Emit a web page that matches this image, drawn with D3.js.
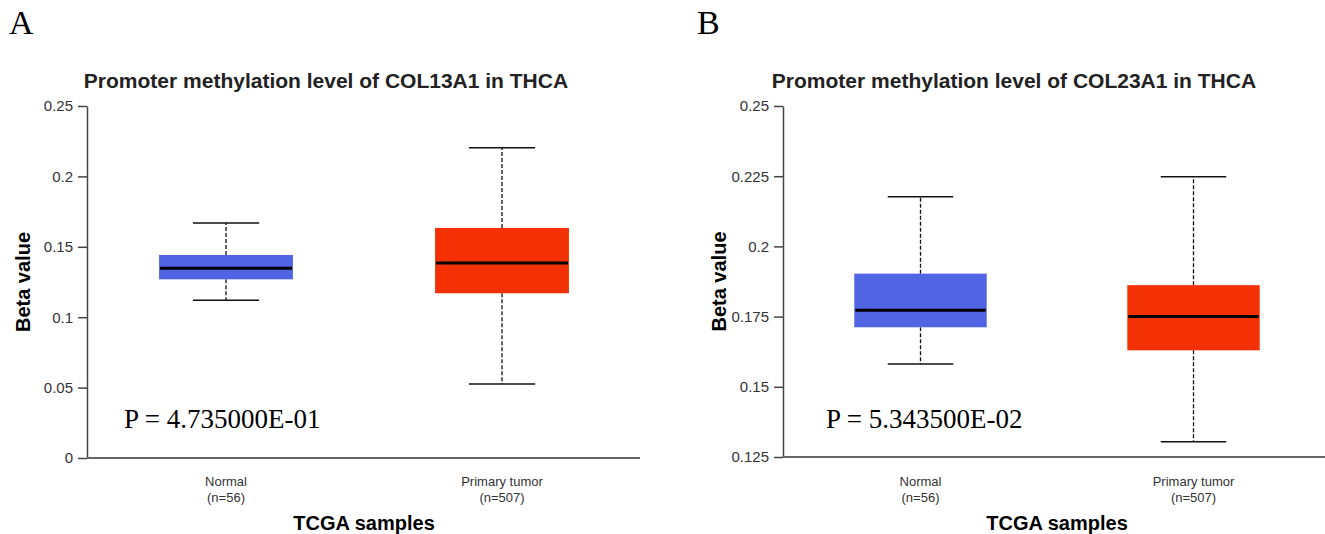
<!DOCTYPE html>
<html>
<head>
<meta charset="utf-8">
<script src="https://cdn.jsdelivr.net/npm/d3@7"></script>
<style>
body{margin:0;background:#fff;}
svg{display:block;}
</style>
</head>
<body>
<div id="chart"></div>
<script>
// data
var panelLabels=["A","B"];
var genes=["COL13A1","COL23A1"];
var groups=["Normal","Primary tumor"];
var groupN=[56,507];
var pValues=["4.735000E-01","5.343500E-02"];
var yTicksA=[0,0.05,0.1,0.15,0.2,0.25];
var yTicksB=[0.125,0.15,0.175,0.2,0.225,0.25];
// [whisker low, q1, median, q3, whisker high] per group
var boxA=[[0.112,0.1269,0.1347,0.1442,0.1669],[0.0526,0.117,0.1385,0.1634,0.2204]];
var boxB=[[0.1581,0.1712,0.1773,0.1903,0.2177],[0.1304,0.163,0.175,0.1862,0.2248]];
var boxColors=["#5064e4","#f43105"];

var width=1325,height=534;
var svg=d3.select("#chart").append("svg")
    .attr("width",width)
    .attr("height",height);

var panels=[
    {label:panelLabels[0],lx:9,gene:genes[0],p:pValues[0],ticks:yTicksA,boxes:boxA,x0:88,x1:640,y0:458,y1:106,titleX:326,px:124},
    {label:panelLabels[1],lx:697,gene:genes[1],p:pValues[1],ticks:yTicksB,boxes:boxB,x0:784,x1:1330,y0:457,y1:106,titleX:1014,px:826}
];

panels.forEach(function(pn){
    var g=svg.append("g");
    var x=d3.scaleLinear().domain([0.5,2.5]).range([pn.x0,pn.x1]);
    var y=d3.scaleLinear().domain([pn.ticks[0],pn.ticks[pn.ticks.length-1]]).range([pn.y0,pn.y1]);

    //panel letter
    g.append("text").attr("x",pn.lx).attr("y",34)
        .attr("font-family","Liberation Serif").attr("font-size",34)
        .text(pn.label);

    //title
    g.append("text").attr("x",pn.titleX).attr("y",88)
        .attr("text-anchor","middle")
        .attr("font-family","Liberation Sans").attr("font-weight","bold").attr("font-size",21)
        .attr("fill","#222")
        .text("Promoter methylation level of "+pn.gene+" in THCA");

    //y axis
    var ya=g.append("g").attr("transform","translate("+(pn.x0-1)+",0)")
        .call(d3.axisLeft(y).tickValues(pn.ticks).tickSize(9).tickSizeOuter(0).tickPadding(5).tickFormat(function(d){return ""+d;}));
    ya.select(".domain").attr("stroke","#444").attr("stroke-width",1.5);
    ya.selectAll(".tick line").attr("stroke","#444").attr("stroke-width",1.5);
    ya.selectAll(".tick text").attr("font-family","Liberation Sans").attr("font-size",15).attr("fill","#333");

    //x axis line
    g.append("line").attr("x1",pn.x0-1).attr("x2",pn.x1).attr("y1",pn.y0).attr("y2",pn.y0)
        .attr("stroke","#666").attr("stroke-width",2);

    //boxes
    var bw=0.485,cw=0.24;
    pn.boxes.forEach(function(b,i){
        var cx=x(i+1);
        var bg=g.append("g");
        bg.append("line").attr("x1",cx).attr("x2",cx).attr("y1",y(b[3])).attr("y2",y(b[4]))
            .attr("stroke","#111").attr("stroke-width",1.3).attr("stroke-dasharray","4,2");
        bg.append("line").attr("x1",cx).attr("x2",cx).attr("y1",y(b[1])).attr("y2",y(b[0]))
            .attr("stroke","#111").attr("stroke-width",1.3).attr("stroke-dasharray","4,2");
        [b[0],b[4]].forEach(function(v){
            bg.append("line").attr("x1",x(i+1-cw/2)).attr("x2",x(i+1+cw/2)).attr("y1",y(v)).attr("y2",y(v))
                .attr("stroke","#111").attr("stroke-width",1.5);
        });
        bg.append("rect").attr("x",x(i+1-bw/2)).attr("width",x(i+1+bw/2)-x(i+1-bw/2))
            .attr("y",y(b[3])).attr("height",y(b[1])-y(b[3]))
            .attr("fill",boxColors[i]);
        bg.append("line").attr("x1",x(i+1-bw/2)+1).attr("x2",x(i+1+bw/2)-1).attr("y1",y(b[2])).attr("y2",y(b[2]))
            .attr("stroke","#000").attr("stroke-width",3);

        //category labels
        g.append("text").attr("x",cx).attr("y",486).attr("text-anchor","middle")
            .attr("font-family","Liberation Sans").attr("font-size",13).attr("fill","#333")
            .text(groups[i]);
        g.append("text").attr("x",cx).attr("y",502).attr("text-anchor","middle")
            .attr("font-family","Liberation Sans").attr("font-size",13).attr("fill","#333")
            .text("(n="+groupN[i]+")");
    });

    //p value
    g.append("text").attr("x",pn.px).attr("y",428)
        .attr("font-family","Liberation Serif").attr("font-size",27)
        .text("P = "+pn.p);

    //axis titles
    g.append("text").attr("x",x(1.5)).attr("y",530).attr("text-anchor","middle")
        .attr("font-family","Liberation Sans").attr("font-weight","bold").attr("font-size",20)
        .text("TCGA samples");
    g.append("text").attr("transform","translate("+(pn.x0-58)+","+((pn.y0+pn.y1)/2)+") rotate(-90)")
        .attr("text-anchor","middle")
        .attr("font-family","Liberation Sans").attr("font-weight","bold").attr("font-size",20)
        .text("Beta value");
});
</script>
</body>
</html>
